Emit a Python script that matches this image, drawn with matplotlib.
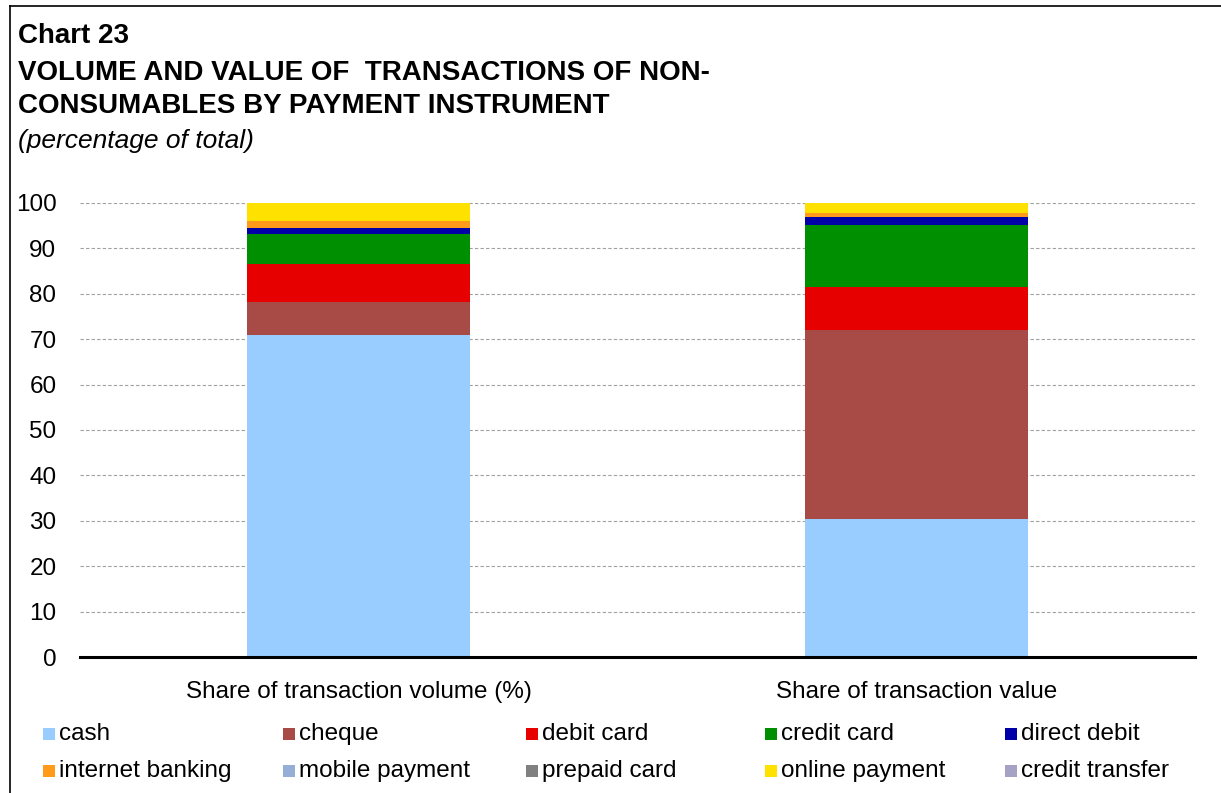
import matplotlib
matplotlib.use("Agg")
import matplotlib.pyplot as plt
from matplotlib.patches import Rectangle
from matplotlib.lines import Line2D
import numpy as np

plt.rcParams['font.family'] = ['Liberation Sans', 'DejaVu Sans']

categories = ["Share of transaction volume (%)", "Share of transaction value"]
series_names = ["cash", "cheque", "debit card", "credit card", "direct debit",
                "internet banking", "mobile payment", "prepaid card",
                "online payment", "credit transfer"]
cash = [70.9, 30.4]
cheque = [7.2, 41.6]
debit_card = [8.4, 9.6]
credit_card = [6.7, 13.6]
direct_debit = [1.4, 1.8]
internet_banking = [1.4, 0.7]
mobile_payment = [0.0, 0.0]
prepaid_card = [0.0, 0.0]
online_payment = [4.0, 2.3]
credit_transfer = [0.0, 0.0]
yticks = [0, 10, 20, 30, 40, 50, 60, 70, 80, 90, 100]

series = [cash, cheque, debit_card, credit_card, direct_debit, internet_banking,
          mobile_payment, prepaid_card, online_payment, credit_transfer]
colors = ["#99CCFF", "#A84A45", "#E60000", "#008F00", "#0000A8",
          "#FF9A1A", "#94AED6", "#808080", "#FFE100", "#A6A2C6"]

W, H = 1221, 793
fig = plt.figure(figsize=(W / 100, H / 100), dpi=100)
ax = fig.add_axes([80 / W, (H - 657) / H, (1195 - 80) / W, (657 - 203) / H])

x = np.arange(len(categories))
bottom = np.zeros(len(categories))
for vals, col, name in zip(series, colors, series_names):
    ax.bar(x, vals, width=0.4, bottom=bottom, color=col, label=name, zorder=2,
           linewidth=0)
    bottom += np.array(vals)

ax.set_xlim(-0.5, 1.5)
ax.set_ylim(0, 100)
ax.set_yticks(yticks)
ax.set_yticklabels([str(t) for t in yticks], fontsize=17.5)
ax.set_xticks(x)
ax.set_xticklabels(categories, fontsize=17.5)
ax.tick_params(axis='y', length=0, pad=17)
ax.tick_params(axis='x', length=0, pad=17)
ax.yaxis.grid(True, linestyle=(0, (3, 2)), color="#A0A0A0", linewidth=0.8, zorder=0)
ax.set_axisbelow(True)
for s in ["top", "right", "left"]:
    ax.spines[s].set_visible(False)
ax.spines["bottom"].set_linewidth(2.2)
ax.spines["bottom"].set_color("black")
ax.spines["bottom"].set_zorder(3)

# Titles
fig.text(18 / W, 1 - 43 / H, "Chart 23", fontsize=20, fontweight="bold",
         ha="left", va="baseline")
fig.text(18 / W, 1 - 80 / H, "VOLUME AND VALUE OF  TRANSACTIONS OF NON-",
         fontsize=20, fontweight="bold", ha="left", va="baseline")
fig.text(18 / W, 1 - 113 / H, "CONSUMABLES BY PAYMENT INSTRUMENT",
         fontsize=20, fontweight="bold", ha="left", va="baseline")
fig.text(18 / W, 1 - 148 / H, "(percentage of total)", fontsize=19,
         fontstyle="italic", ha="left", va="baseline")

# Legend (manual layout)
col_x = [43, 283, 526, 765, 1005]
row_y = [734, 771]
sq = 12
for i, (name, col) in enumerate(zip(series_names, colors)):
    r, c = divmod(i, 5)
    px, py = col_x[c], row_y[r]
    fig.patches.append(Rectangle(((px) / W, 1 - (py + sq / 2) / H), sq / W, sq / H,
                                 transform=fig.transFigure, facecolor=col,
                                 edgecolor="none"))
    fig.text((px + sq + 4) / W, 1 - py / H, name, fontsize=17.5, ha="left",
             va="center")

# Frame lines (left and top)
fig.add_artist(Line2D([10 / W, 10 / W], [0, 1 - 6 / H], transform=fig.transFigure,
                      color="black", linewidth=1.2))
fig.add_artist(Line2D([10 / W, 1], [1 - 6 / H, 1 - 6 / H], transform=fig.transFigure,
                      color="black", linewidth=1.2))

fig.savefig("out.png", dpi=100)
